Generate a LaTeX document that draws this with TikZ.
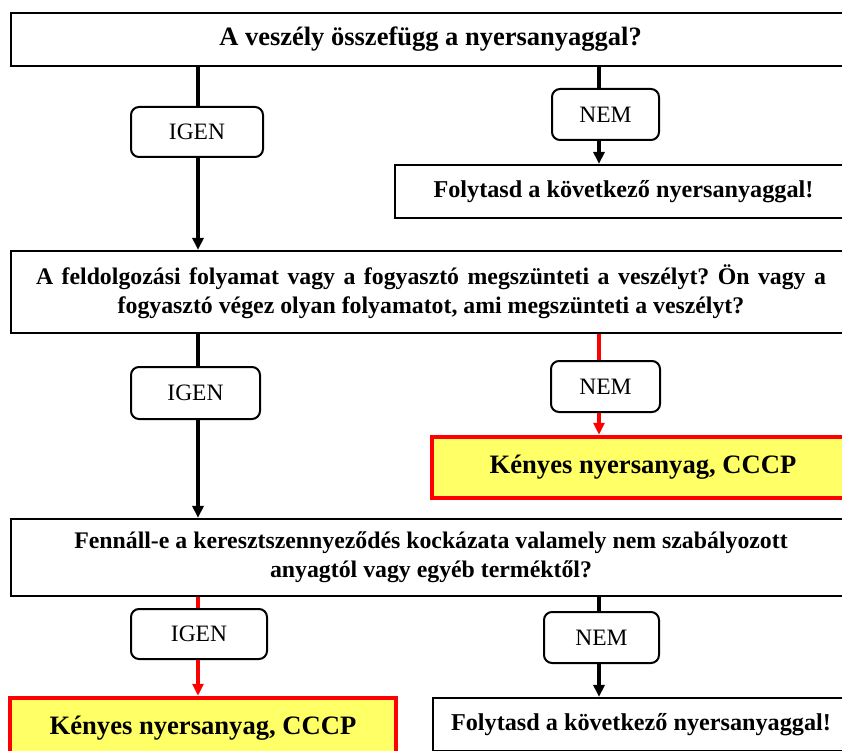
\documentclass[tikz,border=0pt]{standalone}
\usepackage{fontspec}
\setmainfont{Liberation Serif}
\usetikzlibrary{arrows.meta}
\definecolor{kyellow}{RGB}{255,255,102}
\definecolor{kred}{RGB}{255,0,0}
\frenchspacing

\begin{document}
\begin{tikzpicture}[x=1pt,y=-1pt,
  qbox/.style={draw=black, line width=2.2pt, rectangle, fill=white, inner sep=0pt,
    align=center, font=\bfseries\fontsize{23.8}{29}\selectfont},
  answer/.style={draw=black, line width=2pt, rectangle, rounded corners=8pt,
    fill=white, inner sep=0pt, font=\fontsize{23.5}{28}\selectfont},
  hotbox/.style={draw=kred, line width=4.5pt, rectangle, fill=kyellow, inner sep=0pt,
    font=\bfseries\fontsize{26.6}{30}\selectfont},
  conn/.style={line width=3.3pt, draw=black},
  redconn/.style={line width=3.3pt, draw=kred},
  tip/.style={-{Triangle[length=12pt,width=11pt]}}]

\useasboundingbox (0,0) rectangle (842,751);
\fill[white] (0,0) rectangle (842,751);
\clip (0,0) rectangle (842,751);

% column positions of the vertical connectors
\coordinate (xl) at (198,0);
\coordinate (xr) at (599,0);

% first question
\node[qbox, minimum width=839pt, minimum height=53pt,
  font=\bfseries\fontsize{26.5}{30}\selectfont] (q1) at (430.5,39.5)
  {A veszély összefügg a nyersanyaggal?};
\node[answer, minimum width=132pt, minimum height=50pt] (igen1) at (197,132) {IGEN};
\node[answer, minimum width=107pt, minimum height=51pt] (nem1) at (605.5,114.5) {NEM};
\node[qbox, minimum width=457pt, minimum height=53pt,
  font=\bfseries\fontsize{24.2}{29}\selectfont] (f1) at (623.5,191.5)
  {Folytasd a következő nyersanyaggal!};

% second question
\node[qbox, minimum width=840pt, minimum height=82pt] (q2) at (431,292)
  {\makebox[790pt][s]{A feldolgozási folyamat vagy a fogyasztó megszünteti a veszélyt? Ön vagy a}\\
   fogyasztó végez olyan folyamatot, ami megszünteti a veszélyt?};
\node[answer, minimum width=129pt, minimum height=52pt] (igen2) at (195.5,393) {IGEN};
\node[answer, minimum width=109pt, minimum height=51pt] (nem2) at (605.5,386.5) {NEM};
\node[hotbox, minimum width=422pt, minimum height=61pt] (k1) at (643,467.5)
  {Kényes nyersanyag, CCCP};

% third question
\node[qbox, minimum width=840pt, minimum height=77pt] (q3) at (431,557.5)
  {Fennáll-e a keresztszennyeződés kockázata valamely nem szabályozott\\
   anyagtól vagy egyéb terméktől?};
\node[answer, minimum width=136pt, minimum height=50pt] (igen3) at (199,634) {IGEN};
\node[answer, minimum width=115pt, minimum height=51pt] (nem3) at (601.5,637.5) {NEM};
\node[hotbox, minimum width=386pt, minimum height=61pt] (k2) at (203,728.5)
  {Kényes nyersanyag, CCCP};
\node[qbox, minimum width=416pt, minimum height=53pt,
  font=\bfseries\fontsize{24.2}{29}\selectfont] (f2) at (641,724.5)
  {Folytasd a következő nyersanyaggal!};

% connectors
\draw[conn] (q1.south -| xl) -- (igen1.north -| xl);
\draw[conn,tip] (igen1.south -| xl) -- (q2.north -| xl);
\draw[conn] (q1.south -| xr) -- (nem1.north -| xr);
\draw[conn,tip] (nem1.south -| xr) -- (f1.north -| xr);

\draw[conn] (q2.south -| xl) -- (igen2.north -| xl);
\draw[conn,tip] (igen2.south -| xl) -- (q3.north -| xl);
\draw[redconn] (q2.south -| xr) -- (nem2.north -| xr);
\draw[redconn,tip] (nem2.south -| xr) -- (k1.north -| xr);

\draw[redconn] (q3.south -| xl) -- (igen3.north -| xl);
\draw[redconn,tip] (igen3.south -| xl) -- (k2.north -| xl);
\draw[conn] (q3.south -| xr) -- (nem3.north -| xr);
\draw[conn,tip] (nem3.south -| xr) -- (f2.north -| xr);
\end{tikzpicture}
\end{document}
